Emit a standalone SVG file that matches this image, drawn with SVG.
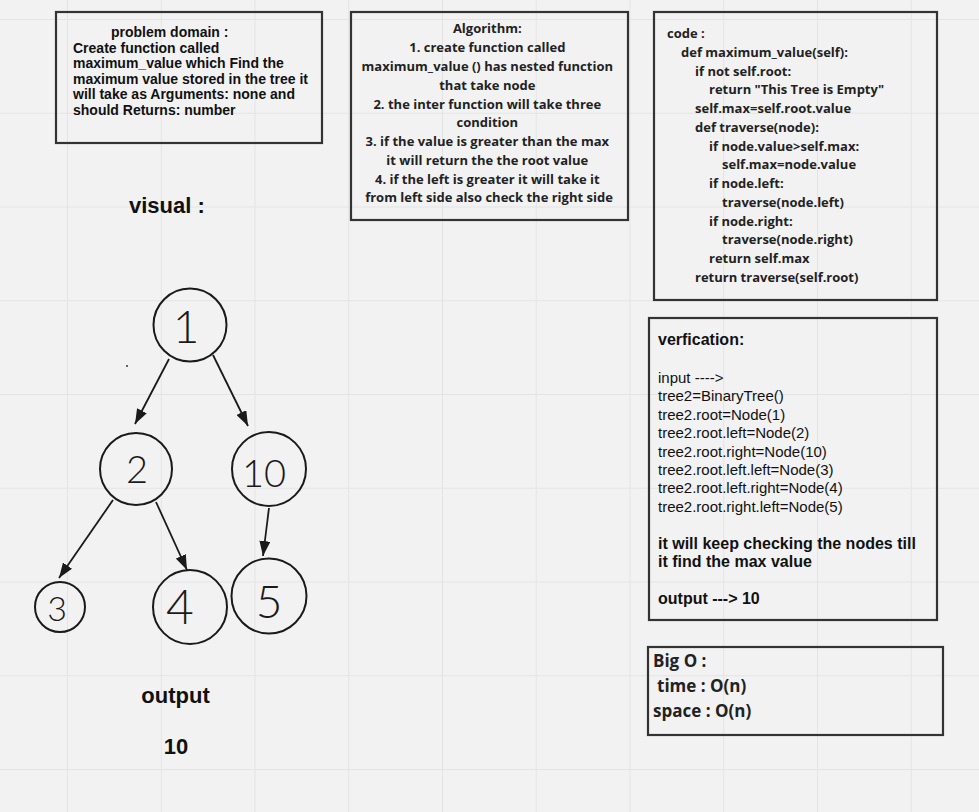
<svg xmlns="http://www.w3.org/2000/svg" width="979" height="812" viewBox="0 0 979 812">
<defs>
<pattern id="grid" x="67" y="19" width="93.75" height="93.75" patternUnits="userSpaceOnUse">
<path d="M0,0 H93.75 M0,0 V93.75" stroke="#e4e4e4" stroke-width="2" fill="none"/>
</pattern>
<marker id="arrow" markerUnits="userSpaceOnUse" markerWidth="15" markerHeight="11" refX="15" refY="5.5" orient="auto">
<path d="M0,0 L15,5.5 L0,11 z" fill="#1a1a1a"/>
</marker>
</defs>
<style>
.box{fill:none;stroke:#333;stroke-width:2.2}
.arial{font-family:"Liberation Sans",Arial,sans-serif;fill:#111}
.open{font-family:"Open Sans","Noto Sans",sans-serif;font-weight:700;fill:#222}
.alg{font-size:13px;text-anchor:middle}
.code{font-size:13px}
.hand{font-family:"Lato","DejaVu Sans",sans-serif;font-weight:300;fill:#1a1a1a;text-anchor:middle}
.node{fill:none;stroke:#1a1a1a;stroke-width:2}
.edge{stroke:#1a1a1a;stroke-width:1.8;fill:none;marker-end:url(#arrow)}
</style>
<rect width="979" height="812" fill="#f2f2f2"/>
<rect width="979" height="812" fill="url(#grid)"/>

<g id="problem-domain">
<rect class="box" x="56" y="12" width="266" height="131"/>
<text class="arial" font-size="14" font-weight="700">
<tspan x="111" y="37">problem domain :</tspan>
<tspan x="73" y="52.5">Create function called</tspan>
<tspan x="73" y="68">maximum_value which Find the</tspan>
<tspan x="73" y="83.5">maximum value stored in the tree it</tspan>
<tspan x="73" y="99">will take as Arguments: none and</tspan>
<tspan x="73" y="114.5">should Returns: number</tspan>
</text>
</g>

<g id="algorithm">
<rect class="box" x="351" y="12" width="277" height="208"/>
<text class="open alg">
<tspan x="489" y="33">Algorithm:</tspan>
<tspan x="489" y="52">1. create function called</tspan>
<tspan x="489" y="71">maximum_value () has nested function</tspan>
<tspan x="489" y="90">that take node</tspan>
<tspan x="489" y="108.5">2. the inter function will take three</tspan>
<tspan x="489" y="127">condition</tspan>
<tspan x="489" y="146">3. if the value is greater than the max</tspan>
<tspan x="489" y="165">it will return the the root value</tspan>
<tspan x="489" y="183.5">4. if the left is greater it will take it</tspan>
<tspan x="489" y="202">from left side also check the right side</tspan>
</text>
</g>

<g id="code">
<rect class="box" x="654" y="12" width="283" height="288"/>
<text class="open code">
<tspan x="667" y="38">code :</tspan>
<tspan x="681" y="57">def maximum_value(self):</tspan>
<tspan x="695" y="76">if not self.root:</tspan>
<tspan x="709" y="94">return "This Tree is Empty"</tspan>
<tspan x="695" y="113">self.max=self.root.value</tspan>
<tspan x="695" y="132">def traverse(node):</tspan>
<tspan x="709" y="151">if node.value&gt;self.max:</tspan>
<tspan x="722" y="169">self.max=node.value</tspan>
<tspan x="709" y="188">if node.left:</tspan>
<tspan x="722" y="207">traverse(node.left)</tspan>
<tspan x="709" y="226">if node.right:</tspan>
<tspan x="722" y="244">traverse(node.right)</tspan>
<tspan x="709" y="263">return self.max</tspan>
<tspan x="695" y="282">return traverse(self.root)</tspan>
</text>
</g>

<g id="verification">
<rect class="box" x="649" y="318" width="288" height="302"/>
<text class="arial" font-size="15" fill="#000">
<tspan x="658" y="345" font-weight="700" font-size="16">verfication:</tspan>
<tspan x="658" y="383">input ----&gt;</tspan>
<tspan x="658" y="401">tree2=BinaryTree()</tspan>
<tspan x="658" y="419.5">tree2.root=Node(1)</tspan>
<tspan x="658" y="438">tree2.root.left=Node(2)</tspan>
<tspan x="658" y="456.5">tree2.root.right=Node(10)</tspan>
<tspan x="658" y="475">tree2.root.left.left=Node(3)</tspan>
<tspan x="658" y="493">tree2.root.left.right=Node(4)</tspan>
<tspan x="658" y="511.5">tree2.root.right.left=Node(5)</tspan>
<tspan x="658" y="548.5" font-weight="700" font-size="16">it will keep checking the nodes till</tspan>
<tspan x="658" y="567" font-weight="700" font-size="16">it find the max value</tspan>
<tspan x="658" y="604" font-weight="700" font-size="16">output ---&gt; 10</tspan>
</text>
</g>

<g id="big-o">
<rect class="box" x="648" y="647" width="295" height="88"/>
<text class="open" font-size="17">
<tspan x="653" y="667">Big O :</tspan>
<tspan x="657" y="692">time : O(n)</tspan>
<tspan x="653" y="717">space : O(n)</tspan>
</text>
</g>

<g id="visual-label">
<text class="arial" x="129" y="213" font-size="22" font-weight="700">visual :</text>
</g>

<g id="output-label">
<text class="arial" x="175.5" y="703" font-size="22" font-weight="700" text-anchor="middle">output</text>
<text class="arial" x="176" y="754" font-size="22" font-weight="700" text-anchor="middle">10</text>
</g>

<g id="node-1">
<circle class="node" cx="190" cy="325" r="36.5"/>
<text class="hand" x="186" y="343" font-size="46">1</text>
</g>
<g id="node-2">
<circle class="node" cx="136" cy="469" r="36"/>
<text class="hand" x="137" y="483" font-size="38">2</text>
</g>
<g id="node-10">
<circle class="node" cx="269" cy="469" r="37"/>
<text class="hand" x="264" y="487" font-size="38">10</text>
</g>
<g id="node-3">
<circle class="node" cx="60" cy="607" r="25"/>
<text class="hand" x="57" y="621" font-size="34">3</text>
</g>
<g id="node-4">
<circle class="node" cx="190" cy="607" r="37"/>
<text class="hand" x="180" y="624" font-size="48">4</text>
</g>
<g id="node-5">
<circle class="node" cx="269" cy="596" r="37.5"/>
<text class="hand" x="269" y="618" font-size="46">5</text>
</g>

<circle cx="127" cy="366" r="1" fill="#333"/>

<g id="connectors">
<line class="edge" x1="169" y1="359" x2="135" y2="424"/>
<line class="edge" x1="213" y1="355" x2="248" y2="426"/>
<line class="edge" x1="113" y1="500" x2="59" y2="578"/>
<line class="edge" x1="156" y1="502" x2="187" y2="570"/>
<line class="edge" x1="269" y1="508" x2="263" y2="556"/>
</g>
</svg>
